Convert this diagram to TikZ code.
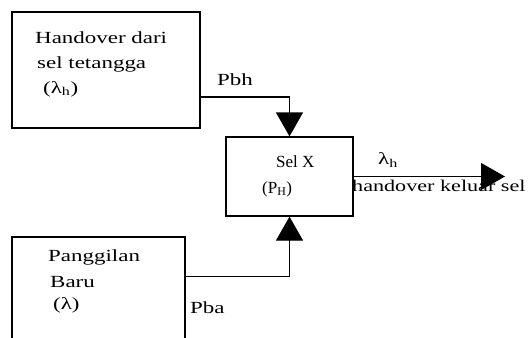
\documentclass[tikz,border=0pt]{standalone}
\usepackage{fontspec}
\setmainfont{Liberation Serif}[FakeStretch=1.35]
\newfontfamily\plainserif{Liberation Serif}
\usetikzlibrary{arrows.meta,calc}
\tikzset{
  box/.style={draw, line width=1.3pt, rectangle, inner sep=0pt},
  conn/.style={line width=1.3pt},
  tip/.style={-{Triangle[width=27pt,length=24pt]}},
  txt/.style={anchor=west, inner sep=0pt, font=\fontsize{17}{20}\selectfont},
  ptxt/.style={txt, font=\plainserif\fontsize{17}{20}\selectfont},
}
\begin{document}
\begin{tikzpicture}[x=1pt,y=-1pt]
\useasboundingbox (0,0) rectangle (529,337);
\clip (0,0) rectangle (529,337);
\fill[white] (0,0) rectangle (529,337);
% boxes
\node[box, minimum width=188pt, minimum height=116pt] (b1) at (106,70) {};
\node[box, minimum width=127pt, minimum height=79pt] (bx) at (289.5,176.5) {};
\node[box, minimum width=173pt, minimum height=200pt] (b2) at (98.5,337) {};
% texts box 1
\node[txt] (t1a) at (35,38) {Handover dari};
\node[txt] (t1b) at (37,64) {sel tetangga};
\node[txt] (t1c) at (43,89) {(λ\textsubscript{h})};
% texts box X
\node[ptxt] (txa) at (276,162) {Sel X};
\node[ptxt] (txb) at (262,189) {(P\textsubscript{H})};
% texts box 2
\node[txt] (t2a) at (48,257) {Panggilan};
\node[txt] (t2b) at (50,282) {Baru};
\node[txt] (t2c) at (53,305) {(λ)};
% connectors
\draw[conn, tip] ($(b1.east)+(0,27)$) -| (bx.north);
\draw[conn, tip] ($(b2.north east)+(0,40)$) -| (bx.south);
\coordinate (out) at (505,176.5);
\draw[conn, tip] (bx.east) -- (out);
% labels
\node[txt] (pbh) at (217,80) {Pbh};
\node[txt] (pba) at (190,308) {Pba};
\node[txt] (lh) at (378,160) {λ\textsubscript{h}};
\node[txt, font=\fontsize{16.4}{20}\selectfont] (hk) at (352,186) {handover keluar sel};
\end{tikzpicture}
\end{document}
